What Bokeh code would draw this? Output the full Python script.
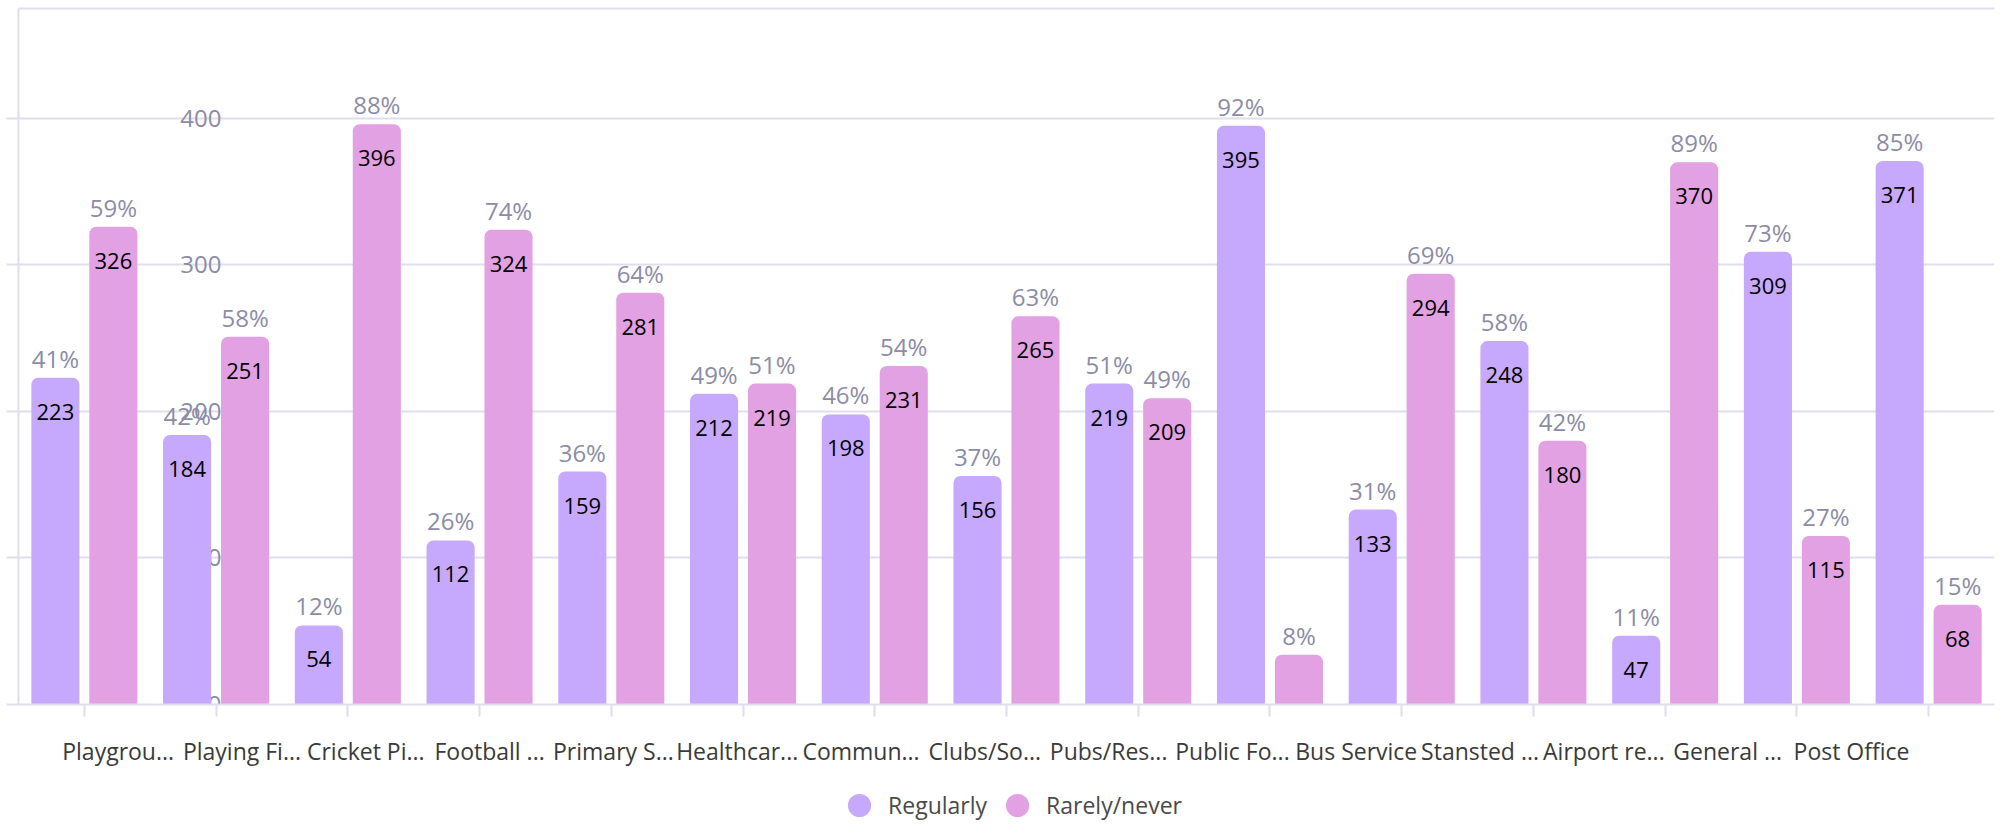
from bokeh.plotting import figure
from bokeh.layouts import column
from bokeh.models import (Range1d, LinearAxis, FixedTicker, SingleIntervalTicker,
                          ColumnDataSource, Legend, LegendItem)
from bokeh.transform import dodge
from bokeh.core.properties import value
from bokeh.embed import file_html
from bokeh.resources import INLINE

# ---------------- data ----------------
categories = ["Playgrou...", "Playing Fi...", "Cricket Pi...", "Football ...", "Primary S...",
              "Healthcar...", "Commun...", "Clubs/So...", "Pubs/Res...", "Public Fo...",
              "Bus Service", "Stansted ...", "Airport re...", "General ...", "Post Office"]
regularly = [223, 184, 54, 112, 159, 212, 198, 156, 219, 395, 133, 248, 47, 309, 371]
rarely = [326, 251, 396, 324, 281, 219, 231, 265, 209, 34, 294, 180, 370, 115, 68]
regularly_pct = ["41%", "42%", "12%", "26%", "36%", "49%", "46%", "37%", "51%", "92%",
                 "31%", "58%", "11%", "73%", "85%"]
rarely_pct = ["59%", "58%", "88%", "74%", "64%", "51%", "54%", "63%", "49%", "8%",
              "69%", "42%", "89%", "27%", "15%"]
series = ["Regularly", "Rarely/never"]
y_ticks = [0, 100, 200, 300, 400]

# ---------------- style ----------------
PURPLE = "#c6a8fc"
PINK = "#e2a1e2"
GRID = "#e0deed"
MUTED = "#8c8ca6"
FONT = "Open Sans"
BAR_W = 0.365
OFF = 0.22

n = len(categories)
idx = list(range(n))


def vlabels(vals):
    return [str(v) if v >= 40 else "" for v in vals]


src = ColumnDataSource(dict(i=idx, cat=categories, reg=regularly, rar=rarely,
                            regp=regularly_pct, rarp=rarely_pct,
                            regv=vlabels(regularly), rarv=vlabels(rarely)))

p = figure(x_range=Range1d(-0.5, n - 0.5), y_range=Range1d(0, 475),
           width=2000, height=772, output_backend="svg", toolbar_location=None,
           title=None, min_border_left=18, min_border_right=0, min_border_top=8,
           min_border_bottom=68,
           extra_x_ranges={"lab": Range1d(-0.805, n - 1 + 1.155)})
p.outline_line_color = None
p.background_fill_color = "white"
p.border_fill_color = "white"

# y axis (line + outer ticks only)
yt = SingleIntervalTicker(interval=100)
p.yaxis.ticker = yt
p.ygrid.ticker = yt
p.yaxis.major_label_overrides = {v: "" for v in y_ticks}
p.yaxis.axis_line_color = GRID
p.yaxis.axis_line_width = 2
p.yaxis.major_tick_line_color = GRID
p.yaxis.major_tick_line_width = 2
p.yaxis.major_tick_out = 12
p.yaxis.major_tick_in = 0
p.yaxis.minor_tick_line_color = None
p.yaxis.major_label_standoff = 0
p.ygrid.grid_line_color = GRID
p.ygrid.grid_line_width = 2
p.xgrid.grid_line_color = None

# category x axis: ticks at the category centres only
cat_axis = p.below[0]
cat_axis.ticker = FixedTicker(ticks=idx)
cat_axis.major_label_overrides = {i: "" for i in idx}
cat_axis.major_label_standoff = 0
cat_axis.major_tick_out = 12
cat_axis.major_tick_in = 0
cat_axis.minor_tick_line_color = None
cat_axis.axis_line_color = GRID
cat_axis.axis_line_width = 2
cat_axis.major_tick_line_color = GRID
cat_axis.major_tick_line_width = 2

# label axis below (labels laid out as in the source picture)
lab_axis = LinearAxis(x_range_name="lab", ticker=FixedTicker(ticks=idx),
                      major_label_overrides={i: c for i, c in zip(idx, categories)},
                      major_tick_line_color=None, minor_tick_line_color=None,
                      axis_line_color=None, major_label_standoff=12,
                      major_label_text_font=FONT, major_label_text_font_size="23px",
                      major_label_text_color="#3a3a3a")
p.add_layout(lab_axis, "below")

# top frame line
top_axis = LinearAxis(x_range_name="lab", ticker=FixedTicker(ticks=[]),
                      major_label_standoff=0,
                      major_tick_out=0, major_tick_in=0, minor_tick_out=0, minor_tick_in=0,
                      axis_line_color=GRID, axis_line_width=2)
p.add_layout(top_axis, "above")

# y tick labels drawn inside the plot (behind bars)
ysrc = ColumnDataSource(dict(x=[idx[1]] * len(y_ticks), y=y_ticks,
                             t=[str(v) for v in y_ticks]))
p.text(x=dodge("x", 0.04), y="y", text="t", source=ysrc,
       text_align="right", text_baseline="middle",
       text_font=value(FONT), text_font_size="24px", text_color=MUTED)

# bars
xr = dodge("i", -OFF)
xp = dodge("i", OFF)
p.vbar(x=xr, top="reg", width=BAR_W, source=src, fill_color=PURPLE, line_color=None,
       border_radius=(7, 7, 0, 0))
p.vbar(x=xp, top="rar", width=BAR_W, source=src, fill_color=PINK, line_color=None,
       border_radius=(7, 7, 0, 0))

# value labels inside the top of each bar
for x, lab, col in ((xr, "regv", "reg"), (xp, "rarv", "rar")):
    p.text(x=x, y=col, text=lab, source=src, text_align="center",
           text_baseline="top", y_offset=26,
           text_font=value(FONT), text_font_size="22px", text_color="black")

# percentage labels above each bar
for x, lab, col in ((xr, "regp", "reg"), (xp, "rarp", "rar")):
    p.text(x=x, y=col, text=lab, source=src, text_align="center",
           text_baseline="bottom", y_offset=-3,
           text_font=value(FONT), text_font_size="24px", text_color=MUTED)

# ---------------- legend strip ----------------
lp = figure(x_range=p.x_range, y_range=p.y_range, width=2000, height=62,
            output_backend="svg", toolbar_location=None, title=None,
            min_border_left=0, min_border_right=6, min_border_top=0, min_border_bottom=0)
lp.axis.visible = False
lp.grid.visible = False
lp.outline_line_color = None
lp.background_fill_color = "white"
lp.border_fill_color = "white"
r1 = lp.scatter(x=xr, y="reg", source=src, marker="circle", size=0,
                fill_color=PURPLE, line_color=None)
r2 = lp.scatter(x=xp, y="rar", source=src, marker="circle", size=0,
                fill_color=PINK, line_color=None)
legend = Legend(items=[LegendItem(label=series[0], renderers=[r1], index=0),
                       LegendItem(label=series[1], renderers=[r2], index=0)],
                orientation="horizontal", location="bottom_center",
                glyph_width=58, glyph_height=58, label_standoff=-5, spacing=1,
                padding=0, margin=0, border_line_color=None, background_fill_alpha=0,
                label_text_font=FONT, label_text_font_size="23px",
                label_text_color="#4a4a4a")
lp.add_layout(legend)

layout = column(p, lp, spacing=0)
open("out.html", "w").write(file_html(layout, INLINE))
